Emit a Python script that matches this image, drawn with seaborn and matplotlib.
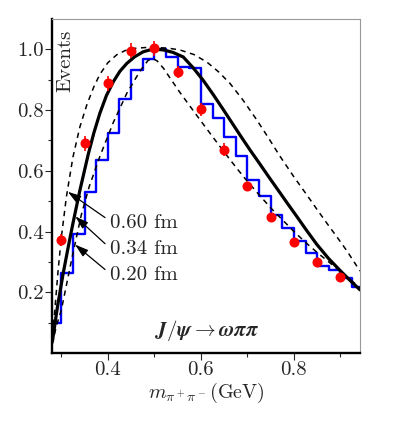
import numpy as np
import matplotlib
matplotlib.use("Agg")
import matplotlib.pyplot as plt
from matplotlib.ticker import FixedLocator, FormatStrFormatter
import seaborn as sns

# ------------------------------------------
# data
# ------------------------------------------
# red data points (normalised events)
data_x = [0.30, 0.35, 0.40, 0.45, 0.50, 0.55, 0.60, 0.65, 0.70, 0.75, 0.80, 0.85, 0.90]
data_y = [0.372, 0.690, 0.888, 0.995, 1.003, 0.925, 0.802, 0.670, 0.549, 0.447, 0.365, 0.300, 0.251]
data_err = [0.020, 0.025, 0.025, 0.025, 0.025, 0.020, 0.020, 0.020, 0.015, 0.015, 0.015, 0.012, 0.012]

# blue histogram
hist_edges = [0.275, 0.300, 0.325, 0.350, 0.375, 0.400, 0.425, 0.450, 0.475, 0.500,
              0.525, 0.550, 0.575, 0.600, 0.625, 0.650, 0.675, 0.700, 0.725, 0.750,
              0.775, 0.800, 0.825, 0.850, 0.875, 0.900, 0.925, 0.950]
hist_vals = [0.100, 0.264, 0.391, 0.531, 0.635, 0.725, 0.836, 0.933, 0.967, 1.000,
             0.975, 0.942, 0.940, 0.819, 0.774, 0.711, 0.648, 0.571, 0.516, 0.454,
             0.412, 0.368, 0.330, 0.288, 0.273, 0.246, 0.216]

# model curves for three radii
r060_x = [0.281, 0.286, 0.293, 0.300, 0.311, 0.325, 0.340, 0.355, 0.370, 0.383,
          0.400, 0.419, 0.437, 0.455, 0.480, 0.505, 0.530, 0.555, 0.585, 0.613,
          0.638, 0.663, 0.690, 0.720, 0.745, 0.770, 0.800, 0.828, 0.850, 0.871,
          0.893, 0.914, 0.942]
r060_y = [0.060, 0.141, 0.270, 0.380, 0.515, 0.645, 0.745, 0.818, 0.877, 0.918,
          0.956, 0.982, 0.996, 1.003, 1.006, 1.006, 1.004, 0.998, 0.983, 0.958,
          0.926, 0.887, 0.834, 0.768, 0.709, 0.648, 0.580, 0.520, 0.472, 0.427,
          0.381, 0.336, 0.270]

r034_x = [0.281, 0.292, 0.304, 0.315, 0.325, 0.340, 0.358, 0.370, 0.383, 0.397,
          0.412, 0.426, 0.441, 0.458, 0.476, 0.490, 0.505, 0.520, 0.540, 0.562,
          0.583, 0.605, 0.627, 0.648, 0.666, 0.684, 0.705, 0.727, 0.745, 0.763,
          0.785, 0.806, 0.828, 0.849, 0.874, 0.899, 0.920, 0.942]
r034_y = [0.040, 0.155, 0.262, 0.350, 0.427, 0.536, 0.655, 0.725, 0.790, 0.848,
          0.894, 0.928, 0.954, 0.976, 0.992, 0.998, 1.000, 0.998, 0.990, 0.975,
          0.940, 0.898, 0.850, 0.802, 0.760, 0.718, 0.670, 0.622, 0.582, 0.543,
          0.495, 0.450, 0.402, 0.358, 0.312, 0.272, 0.240, 0.208]

r020_x = [0.281, 0.289, 0.300, 0.322, 0.343, 0.360, 0.383, 0.412, 0.441, 0.469,
          0.486, 0.496, 0.506, 0.520, 0.534, 0.555, 0.577, 0.600, 0.620, 0.641,
          0.663, 0.681, 0.699, 0.727, 0.750, 0.777, 0.800, 0.828, 0.853, 0.878,
          0.905, 0.934, 0.942]
r020_y = [0.030, 0.087, 0.141, 0.306, 0.455, 0.548, 0.648, 0.760, 0.856, 0.928,
          0.963, 0.970, 0.962, 0.937, 0.905, 0.858, 0.812, 0.764, 0.723, 0.680,
          0.636, 0.601, 0.567, 0.518, 0.478, 0.436, 0.400, 0.360, 0.327, 0.296,
          0.262, 0.225, 0.215]

radius_labels = ["0.60 fm", "0.34 fm", "0.20 fm"]
label_y = [0.428, 0.342, 0.257]
arrow_tips = [(0.314, 0.531), (0.330, 0.450), (0.3295, 0.357)]

y_major = [0.2, 0.4, 0.6, 0.8, 1.0]
y_minor = [0.1, 0.3, 0.5, 0.7, 0.9]
x_major = [0.4, 0.6, 0.8]
x_minor = [0.3, 0.5, 0.7, 0.9]

# ------------------------------------------
# style
# ------------------------------------------
sns.set_style("ticks")
plt.rcParams["font.family"] = "serif"
plt.rcParams["font.serif"] = ["cmr10", "DejaVu Serif"]
plt.rcParams["mathtext.fontset"] = "cm"
plt.rcParams["axes.formatter.use_mathtext"] = True

fig = plt.figure(figsize=(3.95, 4.21), dpi=100)
ax = fig.add_axes([52 / 395, 68 / 421, 308 / 395, 334 / 421])

# ------------------------------------------
# histogram
# ------------------------------------------
edges = np.array(hist_edges)
centers = (edges[:-1] + edges[1:]) / 2
sns.histplot(x=centers, weights=hist_vals, bins=hist_edges, element="step",
             fill=False, color="#0000ff", linewidth=1.7, ax=ax)

# ------------------------------------------
# curves
# ------------------------------------------
sns.lineplot(x=r060_x, y=r060_y, color="black", linewidth=1.1,
             linestyle=(0, (3.5, 3)), sort=False, estimator=None, ax=ax)
sns.lineplot(x=r034_x, y=r034_y, color="black", linewidth=2.3,
             sort=False, estimator=None, ax=ax)
sns.lineplot(x=r020_x, y=r020_y, color="black", linewidth=1.1,
             linestyle=(0, (3.5, 3)), sort=False, estimator=None, ax=ax)

# ------------------------------------------
# data points
# ------------------------------------------
ax.errorbar(data_x, data_y, yerr=data_err, fmt="o", color="red", ms=6.2,
            elinewidth=1.2, capsize=0, zorder=5)

# ------------------------------------------
# labels and arrows
# ------------------------------------------
for lab, ly, tip in zip(radius_labels, label_y, arrow_tips):
    ax.text(0.405, ly, lab, ha="left", va="center", fontsize=15)
    ax.annotate("", xy=tip, xytext=(0.394, ly + 0.018),
                arrowprops=dict(arrowstyle="-|>,head_length=0.8,head_width=0.25",
                                color="black", lw=0.9, shrinkA=0, shrinkB=0))

ax.text(0.045, 0.967, "Events", rotation=90, transform=ax.transAxes,
        ha="center", va="top", fontsize=15)
ax.text(0.505, 0.068, r"$\boldsymbol{J/\psi \rightarrow \omega\pi\pi}$",
        transform=ax.transAxes, ha="center", va="center", fontsize=15)

ax.set_xlabel(r"$m_{\pi^+\pi^-}(\mathrm{GeV})$", fontsize=14.5, va="center")
ax.xaxis.set_label_coords(0.5, -0.12)
ax.set_ylabel("")

# ------------------------------------------
# axes
# ------------------------------------------
ax.set_xlim(0.28, 0.942)
ax.set_ylim(0.0, 1.1)
ax.xaxis.set_major_locator(FixedLocator(x_major))
ax.xaxis.set_minor_locator(FixedLocator(x_minor))
ax.yaxis.set_major_locator(FixedLocator(y_major))
ax.yaxis.set_minor_locator(FixedLocator(y_minor))
ax.xaxis.set_major_formatter(FormatStrFormatter("%.1f"))
ax.yaxis.set_major_formatter(FormatStrFormatter("%.1f"))
ax.tick_params(which="major", direction="out", length=5, width=0.8,
               labelsize=15, top=False, right=False, pad=1)
ax.tick_params(which="minor", direction="out", length=3, width=0.8,
               top=False, right=False)

for side in ["left", "bottom"]:
    ax.spines[side].set_linewidth(1.7)
    ax.spines[side].set_color("black")
for side in ["top", "right"]:
    ax.spines[side].set_linewidth(0.8)
    ax.spines[side].set_color("#999999")

fig.savefig("out.png", dpi=100)
